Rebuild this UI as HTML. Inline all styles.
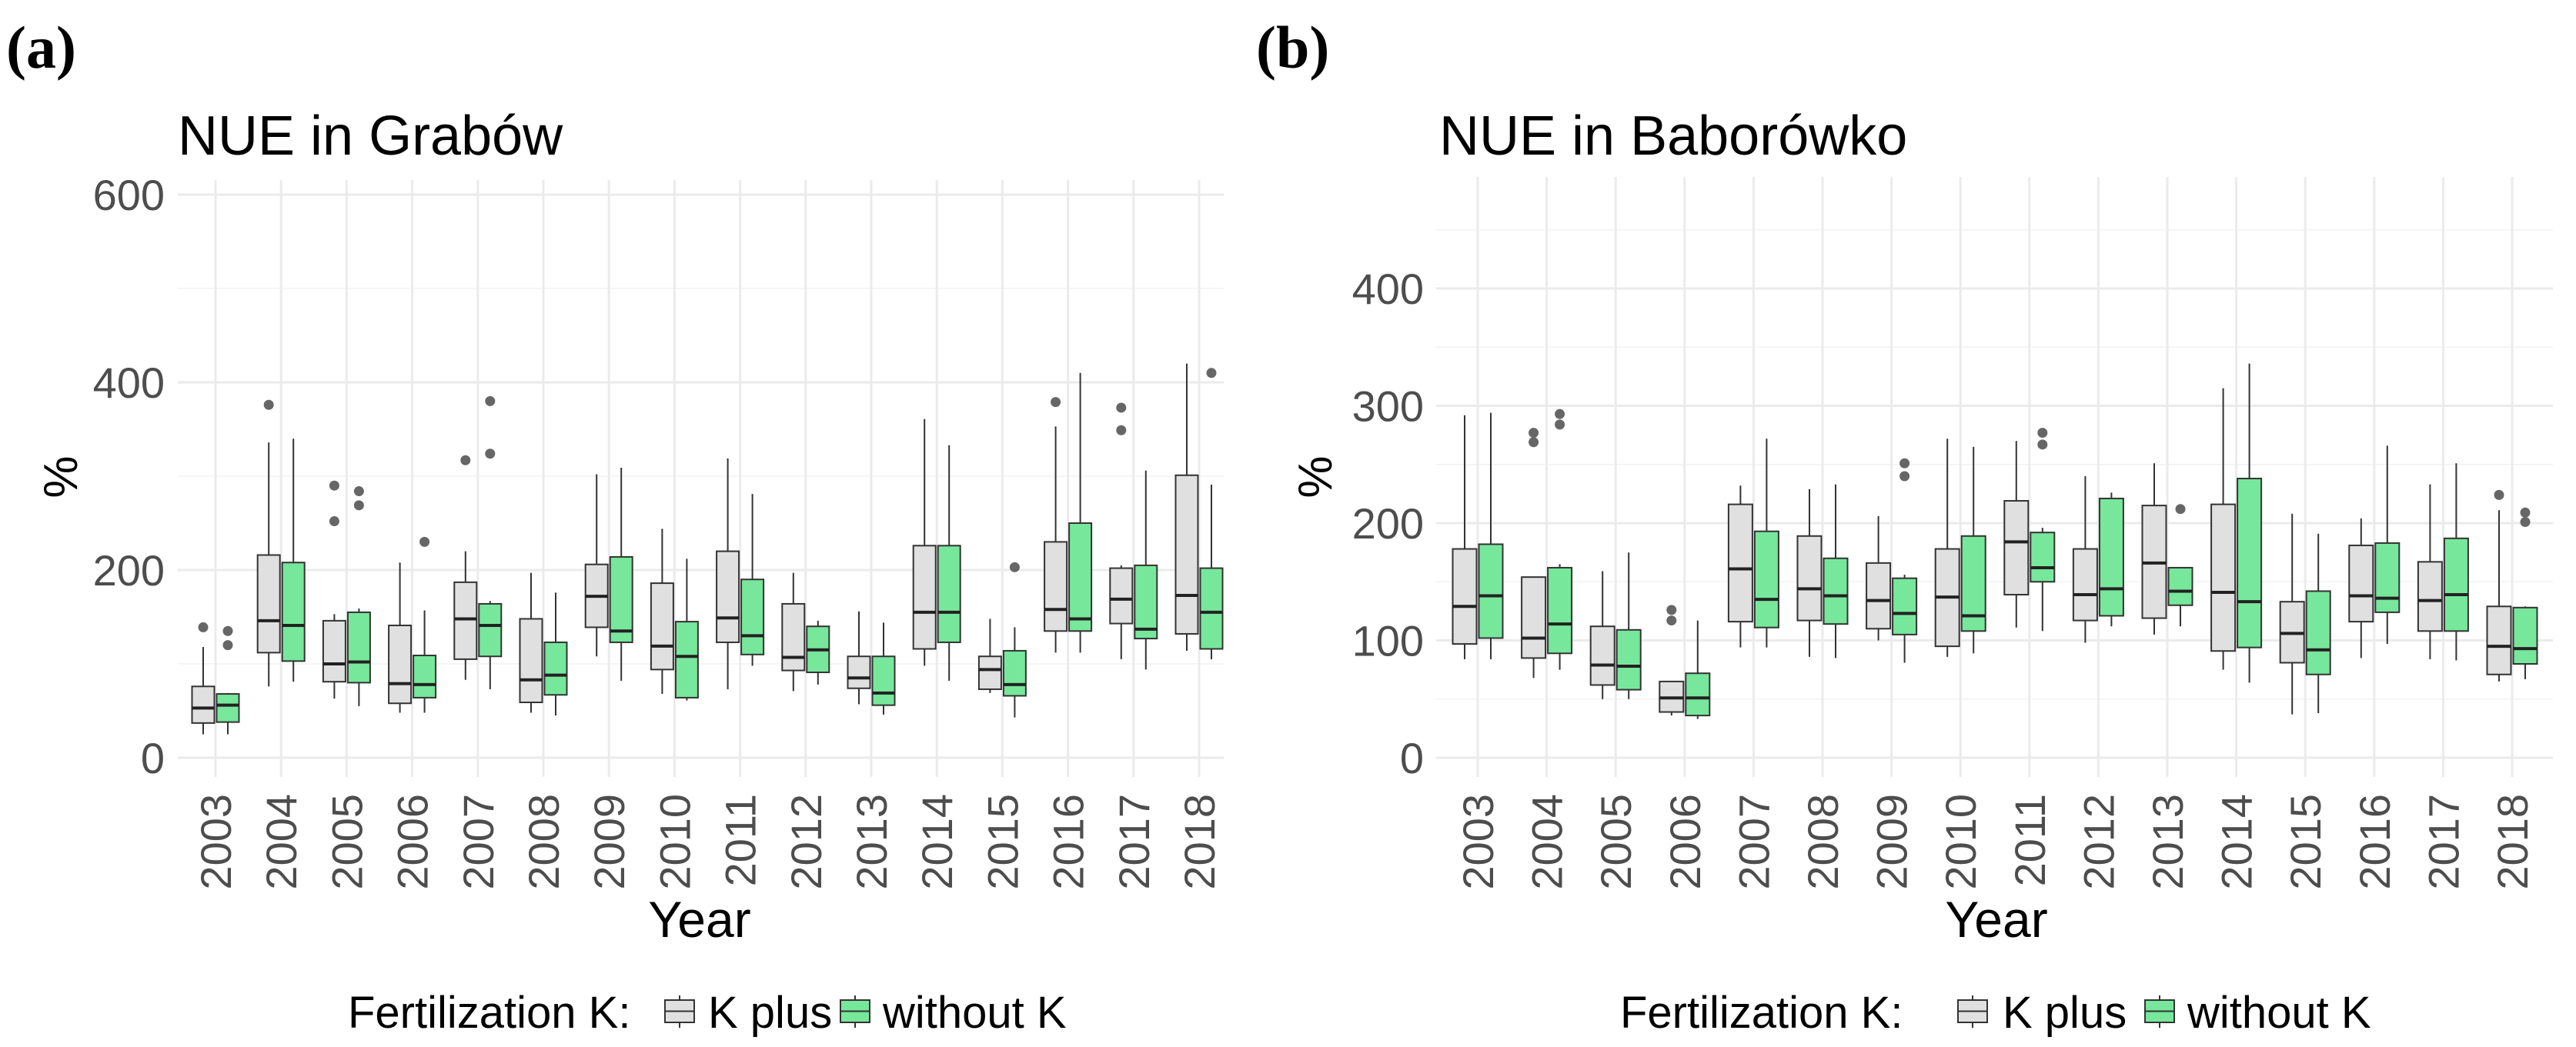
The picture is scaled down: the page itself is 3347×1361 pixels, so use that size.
<!DOCTYPE html>
<html><head><meta charset="utf-8"><style>
html,body{margin:0;padding:0;background:#fff;}
svg{display:block;font-family:"Liberation Sans",sans-serif;}
</style></head><body>
<svg id="chart" width="3347" height="1361" viewBox="0 0 3347 1361" xmlns="http://www.w3.org/2000/svg">
<text x="8" y="88" font-family="Liberation Serif" font-weight="bold" font-size="78" fill="#000">(a)</text>
<text x="1632" y="88" font-family="Liberation Serif" font-weight="bold" font-size="78" fill="#000">(b)</text>
<g id="pa"></g>
<g id="pb"></g>
</svg>
<script>
const years = ["2003","2004","2005","2006","2007","2008","2009","2010","2011","2012","2013","2014","2015","2016","2017","2018"];
// Panel A (Grabów): [whiskerLow, Q1, median, Q3, whiskerHigh]
const grabowKplus = [[25,37,53,76,118],[76,112,146,216,336],[63,81,100,146,153],[48,58,79,141,208],[83,105,148,187,220],[48,59,83,148,197],[108,139,172,206,302],[68,94,119,186,244],[73,123,149,220,319],[71,93,107,164,197],[57,74,85,108,156],[98,116,155,226,361],[69,73,94,108,148],[112,135,158,230,353],[105,143,169,202,205],[114,132,173,301,420]];
const grabowWithoutK = [[25,38,56,68,69],[81,103,141,208,340],[55,80,102,155,159],[48,64,78,109,157],[73,108,141,164,167],[45,67,88,123,176],[82,123,135,214,309],[61,64,108,145,212],[98,110,130,190,281],[78,91,115,140,146],[46,56,69,108,144],[82,123,155,226,333],[43,66,78,114,139],[112,135,148,250,410],[94,127,137,205,306],[105,116,155,202,291]];
const grabowOutKplus = [[139],[376],[290,252],[],[317],[],[],[],[],[],[],[],[],[379],[373,349],[]];
const grabowOutWithoutK = [[135,120],[],[284,269],[230],[380,324],[],[],[],[],[],[],[],[203],[],[],[410]];
const grabowTicks = [0,200,400,600];
const grabowMinor = [100,300,500];
// Panel B (Baborówko)
const babKplus = [[84,97,129,178,292],[68,85,102,154,154],[50,62,79,112,159],[36,39,51,65,65],[94,116,161,216,232],[86,117,144,189,229],[100,110,134,166,206],[86,95,137,178,272],[111,139,184,219,270],[98,117,139,178,240],[105,119,166,215,251],[75,91,141,216,315],[37,81,106,133,208],[85,116,138,181,204],[84,108,134,167,233],[65,71,95,129,211]];
const babWithoutK = [[84,102,138,182,294],[75,89,114,162,165],[50,58,78,109,175],[33,36,51,72,117],[94,111,135,193,272],[85,114,138,170,233],[81,105,123,153,156],[89,108,121,189,265],[108,150,162,192,196],[112,121,144,221,226],[112,130,142,162,162],[64,94,133,238,336],[38,71,92,142,191],[97,124,136,183,266],[83,108,139,187,251],[67,80,93,128,129]];
const babOutKplus = [[],[277,269],[],[126,117],[],[],[],[],[],[],[],[],[],[],[],[224]];
const babOutWithoutK = [[],[293,284],[],[],[],[],[251,240],[],[277,267],[],[212],[],[],[],[],[209,201]];
const babTicks = [0,100,200,300,400];
const babMinor = [50,150,250,350,450];

const NS="http://www.w3.org/2000/svg";
function mk(tag, attrs, parent){const e=document.createElementNS(NS,tag);for(const k in attrs)e.setAttribute(k,attrs[k]);parent.appendChild(e);return e;}

function panel(g, cfg){
  const {left,right,top,y0,pxPer,x0,dx,bw,kp,wk,okp,owk,ticks,minor,title,titleX,tickRight,pctX,yearX,legX,keyX,kpX,key2X,wkX}=cfg;
  const ys=v=>y0-v*pxPer;
  const xs=i=>x0+i*dx;
  const grid=mk('g',{},g);
  
  
  minor.forEach(v=>{const l=mk('line',{x1:left,x2:right,y1:ys(v),y2:ys(v),stroke:'#f2f2f2','stroke-width':1.5},grid);
    
    });
  ticks.forEach(v=>{const l=mk('line',{x1:left,x2:right,y1:ys(v),y2:ys(v),stroke:'#ebebeb','stroke-width':3},grid);
    
    
    const t=mk('text',{x:tickRight,y:ys(v)+20,'text-anchor':'end','font-size':56,fill:'#4d4d4d'},g);
    t.textContent=v;
    
    });
  years.forEach((yr,i)=>{const l=mk('line',{x1:xs(i),x2:xs(i),y1:top,y2:1010,stroke:'#ebebeb','stroke-width':3},grid);
    
    
    const t=mk('text',{x:0,y:0,'text-anchor':'end','font-size':56,fill:'#4d4d4d',transform:`translate(${xs(i)+20},1032) rotate(-90)`},g);
    t.textContent=yr;
    
    });
  function box(i,d,outs,off,fill,name){
    const cx=xs(i)+off;
    const bg=mk('g',{},g);
    
    
    mk('line',{x1:cx,x2:cx,y1:ys(d[0]),y2:ys(d[1]),stroke:'#333','stroke-width':2},bg);
    mk('line',{x1:cx,x2:cx,y1:ys(d[3]),y2:ys(d[4]),stroke:'#333','stroke-width':2},bg);
    mk('rect',{x:cx-bw/2,y:ys(d[3]),width:bw,height:ys(d[1])-ys(d[3]),fill:fill,stroke:'#333','stroke-width':2},bg);
    mk('line',{x1:cx-bw/2,x2:cx+bw/2,y1:ys(d[2]),y2:ys(d[2]),stroke:'#222','stroke-width':4},bg);
    outs.forEach(o=>{const c=mk('circle',{cx:cx,cy:ys(o),r:6.5,fill:'#666'},bg);
      
      });
  }
  years.forEach((yr,i)=>{box(i,kp[i],okp[i],-bw/2-1.5,'#e0e0e0','box-kplus-'+yr);box(i,wk[i],owk[i],bw/2+1.5,'#77e79b','box-withoutk-'+yr);});
  let t=mk('text',{x:titleX,y:201,'font-size':72,fill:'#000'},g);t.textContent=title;
  
  
  t=mk('text',{x:0,y:0,'text-anchor':'middle','font-size':62,fill:'#000',transform:`translate(${pctX},620) rotate(-90)`},g);t.textContent='%';
  
  
  t=mk('text',{x:yearX,y:1218,'text-anchor':'middle','font-size':66,fill:'#000'},g);t.textContent='Year';
  
  
  const lg=mk('g',{},g);
  
  
  t=mk('text',{x:legX,y:1336,'font-size':58,fill:'#000'},lg);t.textContent='Fertilization K:';
  
  
  [[keyX,'#e0e0e0',kpX,'K plus','legend-kplus'],[key2X,'#77e79b',wkX,'without K','legend-withoutk']].forEach(e=>{
    const eg=mk('g',{},lg);
    
    
    mk('line',{x1:e[0]+19,x2:e[0]+19,y1:1294,y2:1336,stroke:'#333','stroke-width':2},eg);
    mk('rect',{x:e[0],y:1300,width:38,height:29,fill:e[1],stroke:'#333','stroke-width':2},eg);
    mk('line',{x1:e[0],x2:e[0]+38,y1:1314.5,y2:1314.5,stroke:'#333','stroke-width':2},eg);
    const tt=mk('text',{x:e[2],y:1336,'font-size':58,fill:'#000'},eg);tt.textContent=e[3];
  });
}
panel(document.getElementById('pa'),{left:231,right:1590,top:234,y0:985,pxPer:1.22,x0:280,dx:85.2,bw:29,kp:grabowKplus,wk:grabowWithoutK,okp:grabowOutKplus,owk:grabowOutWithoutK,ticks:grabowTicks,minor:grabowMinor,title:'NUE in Grabów',titleX:231,tickRight:214,pctX:100,yearX:909,legX:452,keyX:864,kpX:920,key2X:1092,wkX:1147});
panel(document.getElementById('pb'),{left:1866,right:3317,top:230,y0:985,pxPer:1.525,x0:1920,dx:89.6,bw:31,kp:babKplus,wk:babWithoutK,okp:babOutKplus,owk:babOutWithoutK,ticks:babTicks,minor:babMinor,title:'NUE in Baborówko',titleX:1870,tickRight:1850,pctX:1730,yearX:2594,legX:2105,keyX:2544,kpX:2602,key2X:2787,wkX:2842});
</script>
</body></html>
